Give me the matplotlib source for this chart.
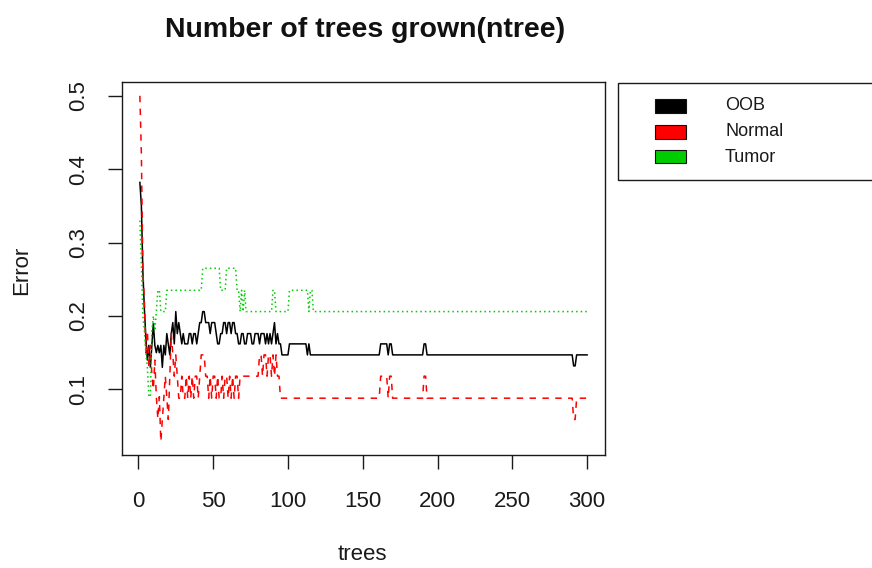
import numpy as np
import matplotlib
matplotlib.use("Agg")
import matplotlib.pyplot as plt
from matplotlib.patches import Rectangle

plt.rcParams['font.family'] = ['Liberation Sans', 'DejaVu Sans']

# ---- data: error rates per number of trees (1..300) ----
n_trees = 300

oob_early = [0.382, 0.35, 0.26, 0.21, 0.17, 0.14, 0.16, 0.13, 0.16, 0.19,
             0.16, 0.15, 0.16, 0.15, 0.16, 0.13, 0.16, 0.147, 0.176, 0.162,
             0.147, 0.176, 0.191, 0.162, 0.206,
             0.176, 0.191, 0.176, 0.162, 0.176,
             0.162, 0.162, 0.162, 0.176, 0.176,
             0.162, 0.176, 0.176, 0.162, 0.176,
             0.191, 0.191, 0.206, 0.206, 0.191,
             0.191, 0.191, 0.176, 0.191, 0.191,
             0.191, 0.176, 0.162, 0.162, 0.176,
             0.176, 0.191, 0.191, 0.176, 0.191,
             0.191, 0.176, 0.191, 0.191, 0.176,
             0.176, 0.162, 0.162, 0.176, 0.176,
             0.162, 0.162, 0.176, 0.176, 0.176,
             0.162, 0.162, 0.176, 0.176, 0.176,
             0.162, 0.176, 0.176, 0.176, 0.162,
             0.176, 0.162, 0.176, 0.162, 0.176,
             0.191, 0.162, 0.176, 0.162, 0.162,
             0.147, 0.147, 0.147, 0.147, 0.147]
oob_runs = [(0.162, 12), (0.147, 1), (0.162, 1), (0.147, 47), (0.162, 5),
            (0.147, 1), (0.162, 2), (0.147, 21), (0.162, 2), (0.147, 98),
            (0.132, 2), (0.147, 8)]

normal_early = [0.5, 0.42, 0.26, 0.22, 0.15, 0.18, 0.13, 0.16, 0.12, 0.10,
                0.14, 0.09, 0.06, 0.09, 0.029, 0.059, 0.088, 0.118, 0.088, 0.059,
                0.118, 0.176, 0.147, 0.118, 0.147,
                0.118, 0.088, 0.088, 0.118, 0.088,
                0.088, 0.118, 0.088, 0.118, 0.088,
                0.118, 0.088, 0.118, 0.118, 0.088,
                0.118, 0.147, 0.147, 0.147, 0.118,
                0.118, 0.088, 0.118, 0.088, 0.118,
                0.118, 0.088, 0.118, 0.088, 0.088,
                0.118, 0.088, 0.118, 0.118, 0.088,
                0.118, 0.088, 0.118, 0.088, 0.118,
                0.118, 0.088, 0.118, 0.118, 0.118,
                0.118, 0.118, 0.118, 0.118, 0.118,
                0.118, 0.118, 0.118, 0.118, 0.118,
                0.147, 0.147, 0.118, 0.147, 0.147,
                0.118, 0.147, 0.147, 0.118, 0.147,
                0.118, 0.147, 0.118, 0.118, 0.088,
                0.088, 0.088, 0.088, 0.088, 0.088]
normal_runs = [(0.088, 61), (0.118, 5), (0.088, 1), (0.118, 2), (0.088, 21),
               (0.118, 2), (0.088, 98), (0.059, 2), (0.088, 8)]

tumor_early = [0.33, 0.27, 0.2, 0.18, 0.15, 0.13, 0.09, 0.09, 0.18, 0.2,
               0.18, 0.206, 0.235, 0.235, 0.206, 0.206, 0.206, 0.206, 0.235, 0.235]
tumor_runs = [(0.235, 22), (0.265, 12), (0.235, 4), (0.265, 7), (0.235, 2),
              (0.206, 1), (0.235, 1), (0.206, 1), (0.235, 1), (0.206, 18),
              (0.235, 2), (0.206, 9), (0.235, 13), (0.206, 1), (0.235, 2),
              (0.206, 184)]

x_ticks = [0, 50, 100, 150, 200, 250, 300]
y_ticks = [0.1, 0.2, 0.3, 0.4, 0.5]
series_names = ["OOB", "Normal", "Tumor"]
series_colors = ["#000000", "#FF0000", "#00CD00"]


def expand(early, runs):
    vals = list(early)
    for v, c in runs:
        vals.extend([v] * c)
    return np.array(vals)


oob = expand(oob_early, oob_runs)
normal = expand(normal_early, normal_runs)
tumor = expand(tumor_early, tumor_runs)
trees = np.arange(1, n_trees + 1)

W, H = 872, 568
fig = plt.figure(figsize=(W / 100, H / 100), dpi=100)
ax = fig.add_axes([122 / W, 1 - 455 / H, (605 - 122) / W, (455 - 82) / H])

ax.plot(trees, oob, color=series_colors[0], lw=1.1, linestyle='-')
ax.plot(trees, normal, color=series_colors[1], lw=1.1, linestyle=(0, (4.2, 4.2)))
ax.plot(trees, tumor, color=series_colors[2], lw=1.1, linestyle=(0, (1, 2.0)))

ax.set_xlim(-10.96, 311.96)
ax.set_ylim(0.0106, 0.5188)
ax.set_xticks(x_ticks)
ax.set_xticklabels([str(t) for t in x_ticks])
ax.set_yticks(y_ticks)
ax.set_yticklabels([f"{t:.1f}" for t in y_ticks], rotation=90, va='center')
ax.tick_params(axis='both', length=10, width=1.0, labelsize=16, colors='#1a1a1a')
ax.tick_params(axis='x', pad=16)
ax.tick_params(axis='y', pad=14)
for s in ax.spines.values():
    s.set_linewidth(1.0)
    s.set_color('#1a1a1a')

fig.text(365 / W, 1 - 30 / H, "Number of trees grown(ntree)", ha='center', va='center',
         fontsize=20.5, fontweight='bold', color='#111111')
fig.text(362 / W, 1 - 555 / H, "trees", ha='center', va='center', fontsize=16, color='#1a1a1a')
fig.text(22 / W, 1 - 270 / H, "Error", ha='center', va='center', rotation=90,
         fontsize=16, color='#1a1a1a')

# legend box (extends past the right edge, as in the reference)
fig.add_artist(Rectangle((618 / W, 1 - 180 / H), (900 - 618) / W, (180 - 83) / H,
                         transform=fig.transFigure, fill=False, edgecolor='#1a1a1a',
                         linewidth=1.0, clip_on=False))
row_y = [106, 132, 157]
for name, col, ry in zip(series_names, series_colors, row_y):
    fig.add_artist(Rectangle((655 / W, 1 - (ry + 6.5) / H), 31 / W, 13 / H,
                             transform=fig.transFigure, facecolor=col, edgecolor='#111111',
                             linewidth=0.8))
    fig.text(725 / W, 1 - ry / H, name, ha='left', va='center', fontsize=13, color='#1a1a1a')

fig.savefig("out.png", dpi=100)
